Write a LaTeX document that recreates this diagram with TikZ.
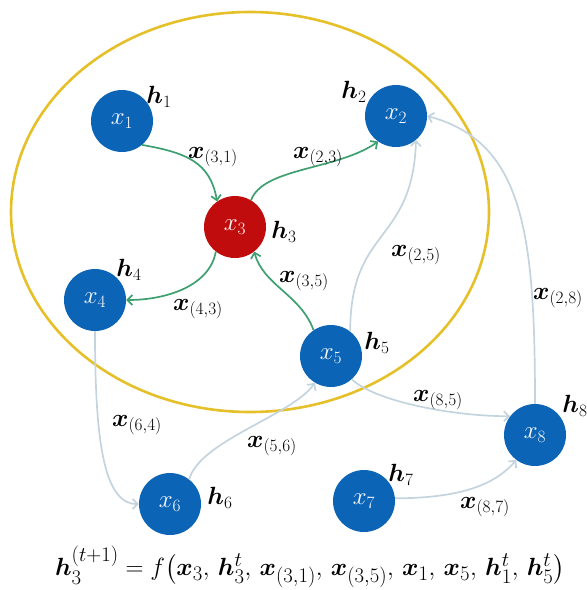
\documentclass[tikz,border=0pt]{standalone}
\usepackage{amsmath,bm}
\usetikzlibrary{arrows.meta}
\definecolor{nodeblue}{RGB}{12,100,182}
\definecolor{nodered}{RGB}{192,12,12}
\definecolor{edgegreen}{RGB}{62,160,112}
\definecolor{edgelight}{RGB}{196,212,222}
\definecolor{ringgold}{RGB}{230,192,40}
\begin{document}
\begin{tikzpicture}[x=1pt,y=1pt,
  gnode/.style={circle, minimum size=62pt, inner sep=0pt, fill=nodeblue, text=white, font=\fontsize{24}{28}\selectfont},
  rnode/.style={gnode, fill=nodered},
  hlab/.style={font=\fontsize{25}{29}\selectfont, inner sep=0pt},
  elab/.style={font=\fontsize{25}{29}\selectfont, inner sep=0pt},
  garrow/.style={draw=edgegreen, line width=1.7pt, -{Straight Barb[length=5pt,width=10pt]}},
  larrow/.style={draw=edgelight, line width=1.7pt, -{Straight Barb[length=5pt,width=10pt]}}]
\useasboundingbox (0,0) rectangle (587,-590);
\draw[ringgold, line width=2.6pt] (250,-212) ellipse [x radius=239, y radius=200];

% nodes
\node[gnode] (x1) at (122,-121) {$x_1$};
\node[gnode] (x2) at (396,-116) {$x_2$};
\node[rnode] (x3) at (235,-227) {$x_3$};
\node[gnode] (x4) at (95,-300) {$x_4$};
\node[gnode] (x5) at (331,-356) {$x_5$};
\node[gnode] (x6) at (170,-504) {$x_6$};
\node[gnode] (x7) at (364,-501) {$x_7$};
\node[gnode] (x8) at (535,-435) {$x_8$};

% h labels
\node[hlab] (h1) at (159,-97) {$\bm{h}_1$};
\node[hlab] (h2) at (354,-92) {$\bm{h}_2$};
\node[hlab] (h3) at (284,-232) {$\bm{h}_3$};
\node[hlab] (h4) at (129,-270) {$\bm{h}_4$};
\node[hlab] (h5) at (377,-343) {$\bm{h}_5$};
\node[hlab] (h6) at (220,-498) {$\bm{h}_6$};
\node[hlab] (h7) at (401,-475) {$\bm{h}_7$};
\node[hlab] (h8) at (575,-406) {$\bm{h}_8$};

% green edges
\draw[garrow] (x1.-50) .. controls +(-10:45) and +(100:40) .. (x3.125);
\draw[garrow] (x3.59) .. controls +(70:35) and +(-145:50) .. (x2.-125);
\draw[garrow] (x3.-128) .. controls +(-100:35) and +(0:40) .. (x4.east);
\draw[garrow] (x5.124) .. controls +(110:38) and +(-75:35) .. (x3.-52);

% light edges
\draw[larrow] (x5.52) .. controls +(90:105) and +(-92:105) .. (x2.-50);
\draw[larrow] (x8.north) .. controls +(90:170) and +(-15:100) .. (x2.east);
\draw[larrow] (x5.-48) .. controls +(-45:30) and +(180:60) .. (x8.143);
\draw[larrow] (x7.5) .. controls +(0:60) and +(-130:35) .. (x8.-127);
\draw[larrow] (x6.52) .. controls +(75:40) and +(-125:40) .. (x5.-121);
\draw[larrow] (x4.south) .. controls +(-90:110) and +(180:35) .. (x6.west);

% edge labels
\node[elab] (e31) at (213,-157) {$\bm{x}_{(3,1)}$};
\node[elab] (e23) at (318,-157) {$\bm{x}_{(2,3)}$};
\node[elab] (e43) at (198,-309) {$\bm{x}_{(4,3)}$};
\node[elab] (e35) at (304,-281) {$\bm{x}_{(3,5)}$};
\node[elab] (e25) at (416,-255) {$\bm{x}_{(2,5)}$};
\node[elab] (e28) at (558,-298) {$\bm{x}_{(2,8)}$};
\node[elab] (e85) at (438,-400) {$\bm{x}_{(8,5)}$};
\node[elab] (e64) at (137,-425) {$\bm{x}_{(6,4)}$};
\node[elab] (e56) at (272,-446) {$\bm{x}_{(5,6)}$};
\node[elab] (e87) at (485,-507) {$\bm{x}_{(8,7)}$};

% formula
\node[font=\fontsize{27.5}{32}\selectfont, inner sep=0pt] (eq) at (310,-567)
  {$\bm{h}_3^{(t+1)} = f\big(\bm{x}_3,\, \bm{h}_3^t,\, \bm{x}_{(3,1)},\, \bm{x}_{(3,5)},\, \bm{x}_1,\, \bm{x}_5,\, \bm{h}_1^t,\, \bm{h}_5^t\big)$};
\end{tikzpicture}
\end{document}
